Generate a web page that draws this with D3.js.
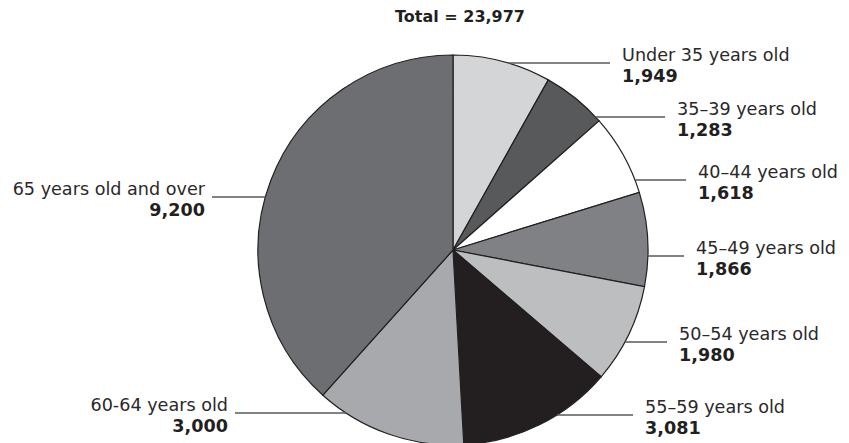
<!DOCTYPE html>
<html><head><meta charset="utf-8">
<script src="https://cdn.jsdelivr.net/npm/d3@7/dist/d3.min.js"></script>
<style>body{margin:0;background:#fff}svg{display:block}</style>
</head><body>
<svg id="c" width="849" height="443"></svg>
<script>
const categories = ["Under 35 years old","35–39 years old","40–44 years old","45–49 years old","50–54 years old","55–59 years old","60-64 years old","65 years old and over"];
const values = [1949,1283,1618,1866,1980,3081,3000,9200];
const valueLabels = ["1,949","1,283","1,618","1,866","1,980","3,081","3,000","9,200"];
const colors = ["#d4d5d7","#58595b","#ffffff","#808184","#bcbec0","#231f20","#a7a9ac","#6d6e71"];
const title = "Total = 23,977";
// label layout: leader y, leader outer x, side
const labelY = [63,117,180,256,342,415,413,197];
const labelX = [610,665,686,684,667,633,235,212];
const labelSide = [1,1,1,1,1,1,-1,-1];

const svg = d3.select("#c");
const cx = 453, cy = 250, R = 195;
const font = "'DejaVu Sans', sans-serif";
const fs = 17.6;

svg.append("text").attr("x",460).attr("y",22).attr("text-anchor","middle")
  .attr("font-family",font).attr("font-weight","bold").attr("font-size",16).attr("fill","#231f20").text(title);

const pie = d3.pie().sort(null).value(d=>d)(values);
const arc = d3.arc().innerRadius(0).outerRadius(R);
const g = svg.append("g").attr("transform",`translate(${cx},${cy})`);
g.selectAll("path").data(pie).join("path").attr("d",arc)
  .attr("fill",(d,i)=>colors[i]).attr("stroke","#231f20").attr("stroke-width",1.2);

categories.forEach((c,i)=>{
  const y = labelY[i], side = labelSide[i];
  const dy = y-cy;
  const ax = cx + side*Math.sqrt(Math.max(0,R*R-dy*dy));
  svg.append("line").attr("x1",ax).attr("x2",labelX[i]).attr("y1",y).attr("y2",y)
    .attr("stroke","#58595b").attr("stroke-width",1.3);
  const tx = labelX[i] + (side>0 ? 12 : -7);
  const anchor = side>0 ? "start" : "end";
  svg.append("text").attr("x",tx).attr("y",y-2).attr("text-anchor",anchor)
    .attr("font-family",font).attr("font-size",fs).attr("fill","#2b2829").text(c);
  svg.append("text").attr("x",tx).attr("y",y+19).attr("text-anchor",anchor)
    .attr("font-family",font).attr("font-weight","bold").attr("font-size",fs).attr("fill","#231f20").text(valueLabels[i]);
});
</script>
</body></html>
